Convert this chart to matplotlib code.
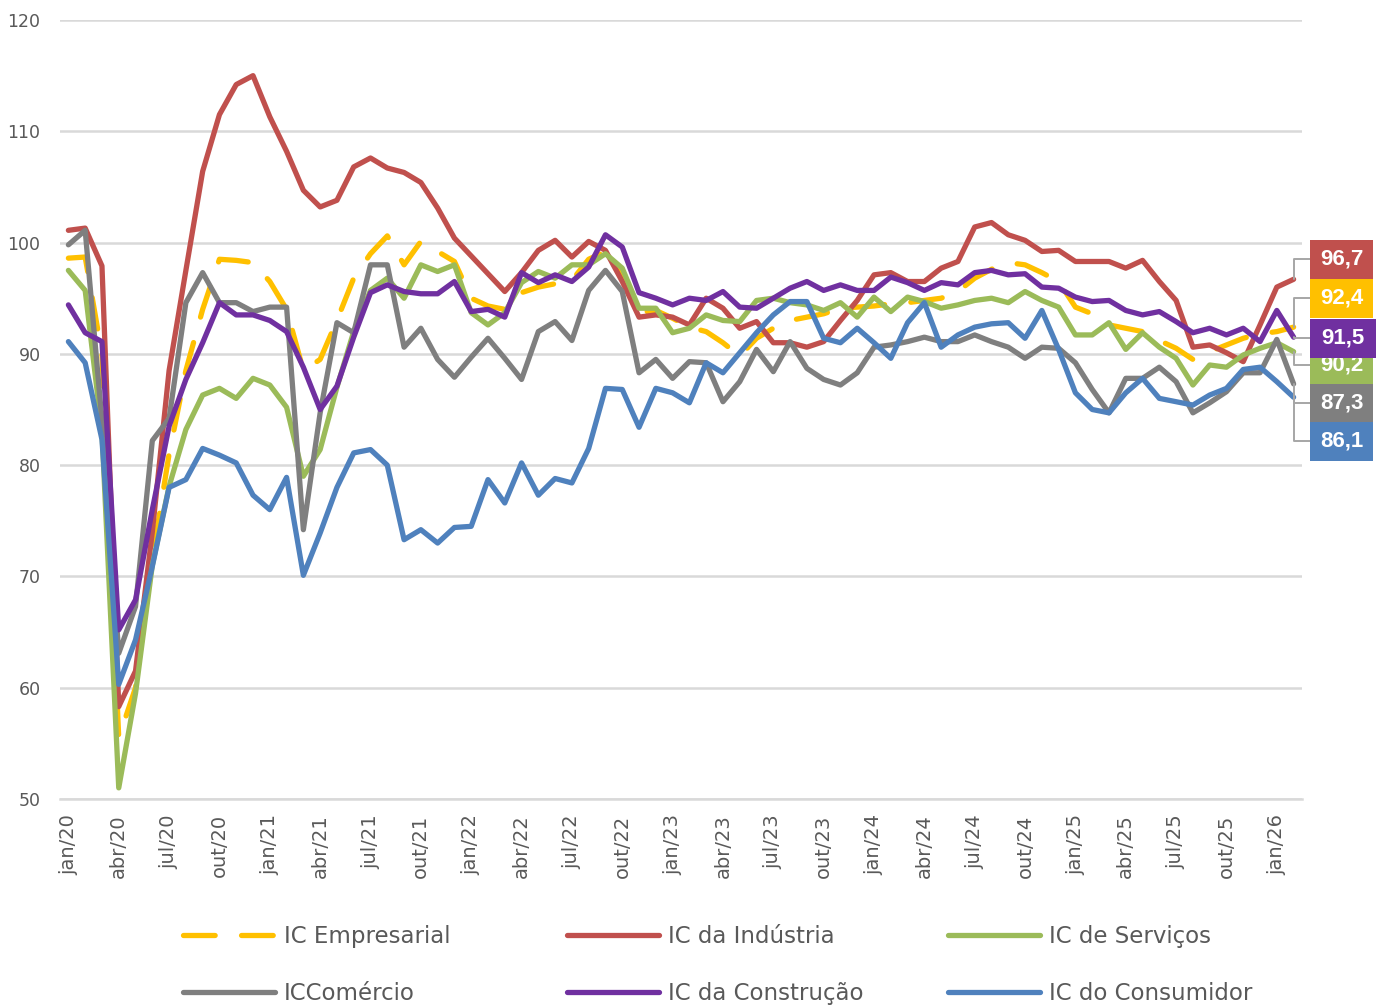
import matplotlib.pyplot as plt
from matplotlib.patches import Rectangle

# meses jan/20 .. fev/26
meses = ['jan', 'fev', 'mar', 'abr', 'mai', 'jun', 'jul', 'ago', 'set', 'out', 'nov', 'dez']
rotulos = [f"{meses[i % 12]}/{20 + i // 12}" for i in range(74)]

ic_empresarial = [98.6, 98.7, 90.0, 55.5, 60.0, 71.5, 81.0, 88.5, 94.0, 98.5, 98.4, 98.2,
                  96.5, 94.0, 88.5, 89.5, 93.0, 96.8, 99.0, 100.6, 98.0, 100.1, 99.2, 98.3,
                  95.0, 94.3, 94.0, 95.5, 96.0, 96.3, 96.6, 98.5, 99.2, 97.0, 93.7, 93.9,
                  93.2, 92.4, 92.0, 91.0, 89.8, 91.4, 92.3, 93.0, 93.3, 93.6, 94.1, 94.2,
                  94.3, 94.5, 94.6, 94.8, 95.0, 95.6, 96.8, 97.6, 98.2, 98.0, 97.3, 96.5,
                  94.2, 93.6, 92.6, 92.3, 92.0, 91.2, 90.5, 89.5, 90.2, 90.8, 91.4, 91.8,
                  92.0, 92.4]
ic_industria = [101.1, 101.3, 97.9, 58.3, 61.5, 74.0, 88.5, 97.5, 106.4, 111.5, 114.2, 115.0,
                111.3, 108.2, 104.7, 103.2, 103.8, 106.8, 107.6, 106.7, 106.3, 105.4, 103.1, 100.4,
                98.8, 97.2, 95.6, 97.3, 99.3, 100.2, 98.7, 100.1, 99.3, 96.5, 93.3, 93.5,
                93.3, 92.6, 95.0, 94.1, 92.3, 92.9, 91.0, 91.0, 90.6, 91.1, 93.0, 94.8,
                97.1, 97.3, 96.5, 96.5, 97.7, 98.3, 101.4, 101.8, 100.7, 100.2, 99.2, 99.3,
                98.3, 98.3, 98.3, 97.7, 98.4, 96.5, 94.8, 90.6, 90.8, 90.1, 89.3, 92.6,
                96.0, 96.7]
ic_servicos = [97.5, 95.7, 83.0, 51.0, 59.5, 71.0, 78.1, 83.2, 86.3, 86.9, 86.0, 87.8,
               87.2, 85.2, 79.0, 81.4, 87.0, 92.0, 95.7, 96.8, 95.0, 98.0, 97.4, 98.0,
               93.7, 92.6, 93.7, 96.4, 97.4, 96.8, 98.0, 98.0, 99.0, 97.7, 94.1, 94.1,
               91.9, 92.3, 93.5, 93.0, 92.9, 94.8, 95.0, 94.6, 94.4, 93.9, 94.6, 93.3,
               95.1, 93.8, 95.1, 94.7, 94.1, 94.4, 94.8, 95.0, 94.6, 95.6, 94.8, 94.2,
               91.7, 91.7, 92.8, 90.4, 91.9, 90.6, 89.6, 87.2, 89.0, 88.8, 89.9, 90.5,
               91.0, 90.2]
ic_comercio = [99.8, 101.1, 84.0, 63.1, 67.3, 82.2, 84.2, 94.6, 97.3, 94.6, 94.6, 93.8,
               94.2, 94.2, 74.2, 84.7, 92.8, 91.9, 98.0, 98.0, 90.6, 92.3, 89.5, 87.9,
               89.7, 91.4, 89.6, 87.7, 92.0, 92.9, 91.2, 95.7, 97.5, 95.6, 88.3, 89.5,
               87.8, 89.3, 89.2, 85.7, 87.5, 90.4, 88.4, 91.1, 88.7, 87.7, 87.2, 88.3,
               90.6, 90.8, 91.1, 91.5, 91.1, 91.1, 91.7, 91.1, 90.6, 89.6, 90.6, 90.5,
               89.2, 86.8, 84.7, 87.8, 87.8, 88.8, 87.5, 84.7, 85.6, 86.6, 88.3, 88.3,
               91.3, 87.3]
ic_construcao = [94.4, 91.9, 91.1, 65.2, 67.9, 76.0, 83.5, 87.7, 91.0, 94.6, 93.5, 93.5,
                 93.0, 92.0, 88.8, 85.0, 87.1, 91.5, 95.5, 96.2, 95.6, 95.4, 95.4, 96.5,
                 93.8, 94.0, 93.3, 97.3, 96.4, 97.1, 96.5, 97.8, 100.7, 99.6, 95.5, 95.0,
                 94.4, 95.0, 94.8, 95.6, 94.2, 94.1, 95.0, 95.9, 96.5, 95.7, 96.2, 95.7,
                 95.7, 96.9, 96.4, 95.7, 96.4, 96.2, 97.3, 97.5, 97.1, 97.2, 96.0, 95.9,
                 95.1, 94.7, 94.8, 93.9, 93.5, 93.8, 92.9, 91.9, 92.3, 91.7, 92.3, 91.1,
                 93.9, 91.5]
ic_consumidor = [91.1, 89.2, 82.3, 60.3, 64.3, 70.9, 78.0, 78.7, 81.5, 80.9, 80.2, 77.3,
                 76.0, 78.9, 70.1, 73.9, 78.0, 81.1, 81.4, 80.0, 73.3, 74.2, 73.0, 74.4,
                 74.5, 78.7, 76.6, 80.2, 77.3, 78.8, 78.4, 81.5, 86.9, 86.8, 83.4, 86.9,
                 86.5, 85.6, 89.2, 88.3, 90.1, 91.9, 93.5, 94.7, 94.7, 91.4, 91.0, 92.3,
                 91.0, 89.6, 92.8, 94.6, 90.6, 91.7, 92.4, 92.7, 92.8, 91.4, 93.9, 90.4,
                 86.5, 85.0, 84.7, 86.5, 87.8, 86.0, 85.7, 85.4, 86.3, 86.9, 88.6, 88.8,
                 87.5, 86.1]

series = [
    ('IC Empresarial', ic_empresarial, '#FFC000', 298),
    ('IC da Indústria', ic_industria, '#C0504D', 259),
    ('IC de Serviços', ic_servicos, '#9BBB59', 365),
    ('ICComércio', ic_comercio, '#7F7F7F', 403),
    ('IC da Construção', ic_construcao, '#7030A0', 338),
    ('IC do Consumidor', ic_consumidor, '#4F81BD', 441),
]

W, H = 1381, 1007
fig = plt.figure(figsize=(W / 100, H / 100), dpi=100)
ax = fig.add_axes([60 / W, 1 - 799 / H, 1242 / W, 779 / H])

x = list(range(len(rotulos)))
handles = {}
for name, vals, color, _ in series:
    if name == 'IC Empresarial':
        ln, = ax.plot(x, vals, color=color, lw=3.8, dashes=(6, 5),
                      dash_capstyle='round', solid_joinstyle='round', label=name)
    else:
        ln, = ax.plot(x, vals, color=color, lw=3.8, solid_capstyle='round',
                      solid_joinstyle='round', label=name)
    handles[name] = ln

ax.set_xlim(-0.5, len(rotulos) - 0.5)
ax.set_ylim(50, 120)
ax.set_yticks(range(50, 121, 10))
ax.yaxis.grid(True, color='#d9d9d9', lw=1.8)
ax.set_axisbelow(True)
for s in ['top', 'right', 'left']:
    ax.spines[s].set_visible(False)
ax.spines['bottom'].set_color('#d9d9d9')
ax.spines['bottom'].set_linewidth(1.8)
ax.set_xticks(x[::3])
ax.set_xticklabels(rotulos[::3], rotation=90, va='top', ha='center')
ax.tick_params(axis='x', length=0, pad=11, labelsize=14, labelcolor='#595959')
ax.tick_params(axis='y', length=0, pad=14, labelsize=12.5, labelcolor='#595959')

# legenda em 3 colunas fixas
cols = [(183, ['IC Empresarial', 'ICComércio']),
        (567, ['IC da Indústria', 'IC da Construção']),
        (948, ['IC de Serviços', 'IC do Consumidor'])]
for xpx, names in cols:
    leg = fig.legend([handles[n] for n in names], names, loc='center left',
                     bbox_to_anchor=(xpx / W, 1 - 965 / H), frameon=False,
                     fontsize=16.5, handlelength=4.0, handletextpad=0.41,
                     labelspacing=1.45, borderpad=0, borderaxespad=0,
                     labelcolor='#595959')

# rótulos do último valor
ordem_z = {'IC de Serviços': 5, 'IC da Construção': 6}
for name, vals, color, yc in series:
    z = ordem_z.get(name, 5)
    largura = 66 if name == 'IC da Construção' else 63
    fig.add_artist(Rectangle((1310 / W, 1 - (yc + 19.5) / H), largura / W, 39 / H,
                             transform=fig.transFigure, facecolor=color,
                             edgecolor='none', zorder=z))
    fig.text((1310 + largura / 2) / W, 1 - yc / H, f"{vals[-1]:.1f}".replace('.', ','),
             ha='center', va='center', color='white', fontsize=16,
             fontweight='bold', family='Liberation Sans', zorder=z + 0.5)
    ax.annotate('', xy=(x[-1], vals[-1]), xycoords='data',
                xytext=(1310, H - yc), textcoords='figure pixels',
                arrowprops=dict(arrowstyle='-', color='#a6a6a6', lw=1.4,
                                shrinkA=0, shrinkB=0,
                                connectionstyle='angle,angleA=180,angleB=90,rad=0'),
                annotation_clip=False)

fig.savefig('out.png', dpi=100)
